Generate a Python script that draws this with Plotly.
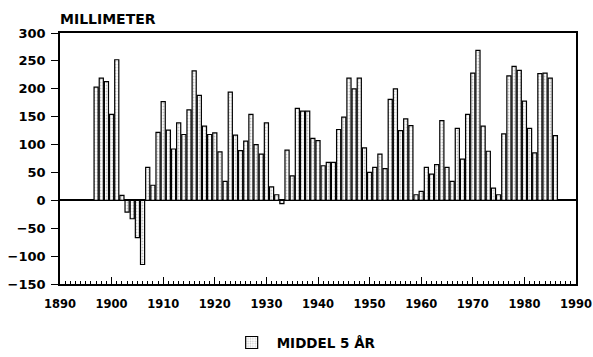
import plotly.graph_objects as go

years = list(range(1897, 1987))
values = [
    203, 219, 213, 154, 252, 9, -21, -33, -67, -115,      # 1897-1906
    59, 27, 122, 177, 126, 92, 139, 118, 162, 232,        # 1907-1916
    188, 133, 118, 121, 87, 34, 194, 117, 89, 106,        # 1917-1926
    154, 100, 83, 139, 24, 10, -6, 90, 44, 165,           # 1927-1936
    160, 160, 111, 107, 62, 68, 68, 127, 149, 219,        # 1937-1946
    200, 219, 94, 50, 59, 83, 57, 181, 200, 125,          # 1947-1956
    146, 134, 10, 16, 59, 47, 64, 143, 59, 34,            # 1957-1966
    129, 74, 154, 228, 269, 133, 88, 22, 10, 119,         # 1967-1976
    223, 240, 233, 178, 129, 85, 227, 228, 219, 116,      # 1977-1986
]
series_name = "MIDDEL 5 ÅR"
y_title = "MILLIMETER"
x_ticks = list(range(1890, 1991, 10))
y_ticks = list(range(-150, 301, 50))

font_family = "DejaVu Sans, Liberation Sans, sans-serif"

fig = go.Figure()
fig.add_trace(go.Bar(
    x=years, y=values, name=series_name,
    width=0.8,
    marker=dict(
        color="white",
        line=dict(color="black", width=1.2),
        pattern=dict(shape=".", fgcolor="#8a8a8a", bgcolor="white", size=3, solidity=0.3),
    ),
    showlegend=True,
))

fig.update_layout(
    width=593, height=357,
    margin=dict(l=60, r=17, t=33, b=73),
    paper_bgcolor="white", plot_bgcolor="white",
    font=dict(family=font_family, size=12, color="black", weight="bold"),
    showlegend=True,
    legend=dict(orientation="h", x=0.323, xanchor="left", yref="container",
                y=0.04, yanchor="middle",
                font=dict(size=13.5, weight="bold"), itemwidth=40),
    annotations=[dict(text=y_title, xref="paper", yref="paper", x=0, y=1,
                      xanchor="left", yanchor="bottom", yshift=4, xshift=-2, showarrow=False,
                      font=dict(size=14, weight="bold"))],
)
fig.update_xaxes(
    range=[1890, 1990], tickvals=x_ticks, ticks="inside", ticklen=7, tickwidth=1,
    tickcolor="black", showline=True, linecolor="black", linewidth=1.5, mirror=True,
    showgrid=False, zeroline=False, automargin=False, ticklabelstandoff=8,
    ticklabeloverflow="allow",
    minor=dict(dtick=1, ticks="inside", ticklen=3, tickcolor="black", tickwidth=1),
    tickfont=dict(size=11.5, weight="bold"),
)
fig.update_yaxes(
    range=[-150, 300], tickvals=y_ticks, ticks="outside", ticklen=7, tickcolor="black",
    showline=True, linecolor="black", linewidth=1.5, mirror=True,
    showgrid=False, zeroline=True, zerolinecolor="black", zerolinewidth=1.5,
    automargin=False, ticklabelstandoff=3, ticklabeloverflow="allow",
    tickfont=dict(size=13, weight="bold"),
)

fig.write_html("out.html", config={"displayModeBar": False},
               post_script="document.body.style.margin='0';document.body.style.overflow='hidden';")
